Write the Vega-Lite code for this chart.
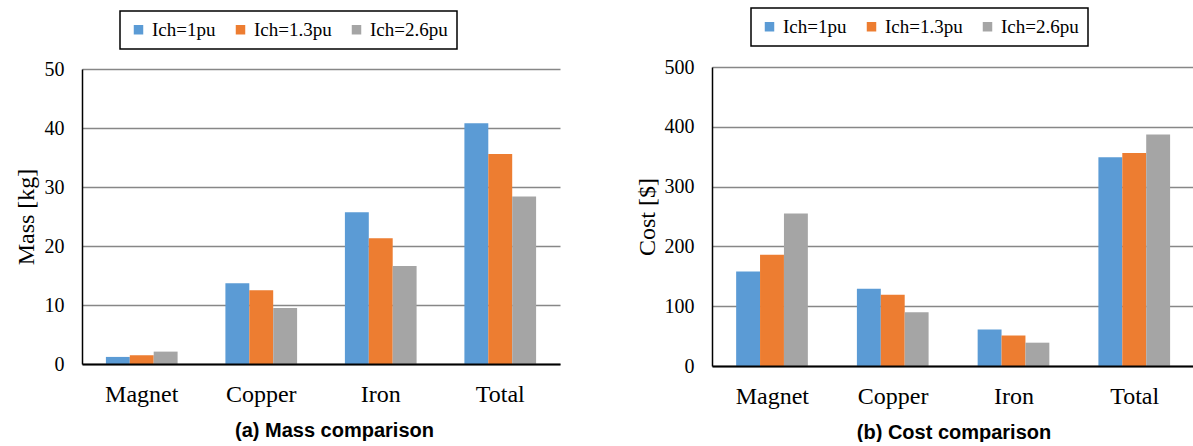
{
  "$schema": "https://vega.github.io/schema/vega-lite/v6.json",
  "padding": {"left": 14, "top": 7, "right": 0, "bottom": 0},
  "background": "white",
  "datasets": {
    "mass": [
      {"component": "Magnet", "series": "Ich=1pu", "value": 1.2},
      {"component": "Magnet", "series": "Ich=1.3pu", "value": 1.5},
      {"component": "Magnet", "series": "Ich=2.6pu", "value": 2.1},
      {"component": "Copper", "series": "Ich=1pu", "value": 13.7},
      {"component": "Copper", "series": "Ich=1.3pu", "value": 12.5},
      {"component": "Copper", "series": "Ich=2.6pu", "value": 9.5},
      {"component": "Iron", "series": "Ich=1pu", "value": 25.7},
      {"component": "Iron", "series": "Ich=1.3pu", "value": 21.3},
      {"component": "Iron", "series": "Ich=2.6pu", "value": 16.6},
      {"component": "Total", "series": "Ich=1pu", "value": 40.8},
      {"component": "Total", "series": "Ich=1.3pu", "value": 35.6},
      {"component": "Total", "series": "Ich=2.6pu", "value": 28.4}
    ],
    "cost": [
      {"component": "Magnet", "series": "Ich=1pu", "value": 158},
      {"component": "Magnet", "series": "Ich=1.3pu", "value": 186},
      {"component": "Magnet", "series": "Ich=2.6pu", "value": 255},
      {"component": "Copper", "series": "Ich=1pu", "value": 129},
      {"component": "Copper", "series": "Ich=1.3pu", "value": 119},
      {"component": "Copper", "series": "Ich=2.6pu", "value": 90},
      {"component": "Iron", "series": "Ich=1pu", "value": 61},
      {"component": "Iron", "series": "Ich=1.3pu", "value": 51},
      {"component": "Iron", "series": "Ich=2.6pu", "value": 39},
      {"component": "Total", "series": "Ich=1pu", "value": 349},
      {"component": "Total", "series": "Ich=1.3pu", "value": 356},
      {"component": "Total", "series": "Ich=2.6pu", "value": 387}
    ]
  },
  "config": {
    "view": {"stroke": null},
    "axis": {
      "labelFont": "Liberation Serif",
      "labelColor": "black",
      "titleColor": "black",
      "ticks": false,
      "gridColor": "#878787",
      "gridWidth": 1.3
    },
    "legend": {
      "orient": "none",
      "direction": "horizontal",
      "title": null,
      "strokeColor": "black",
      "strokeWidth": 1.5,
      "padding": 9,
      "symbolType": "square",
      "symbolSize": 90,
      "symbolStrokeWidth": 0,
      "labelFont": "Liberation Serif",
      "labelFontSize": 19,
      "labelColor": "black",
      "labelOffset": 4,
      "columnPadding": 15,
      "labelLimit": 0
    }
  },
  "bounds": "flush",
  "center": true,
  "spacing": 152,
  "resolve": {"scale": {"color": "independent", "y": "independent"}, "legend": {"color": "independent"}},
  "hconcat": [
    {
      "data": {"name": "mass"},
      "width": 478,
      "height": 295,
      "mark": {"type": "bar"},
      "encoding": {
        "x": {
          "field": "component", "type": "nominal",
          "sort": ["Magnet", "Copper", "Iron", "Total"],
          "scale": {"paddingInner": 0.4, "paddingOuter": 0.2},
          "axis": {
            "title": "(a) Mass comparison",
            "labelAngle": 0, "labelFontSize": 24, "labelPadding": 18,
            "titleFont": "Liberation Sans", "titleFontSize": 20, "titleFontWeight": "bold",
            "titlePadding": 14, "titleX": 252, "titleAlign": "center",
            "domainColor": "black", "domainWidth": 2, "grid": false, "zindex": 1
          }
        },
        "xOffset": {
          "field": "series", "type": "nominal",
          "sort": ["Ich=1pu", "Ich=1.3pu", "Ich=2.6pu"],
          "scale": {"paddingInner": 0, "paddingOuter": 0}
        },
        "y": {
          "field": "value", "type": "quantitative",
          "scale": {"domain": [0, 50]},
          "axis": {
            "title": "Mass [kg]", "values": [0, 10, 20, 30, 40, 50],
            "labelFontSize": 20, "labelPadding": 18,
            "titleFont": "Liberation Serif", "titleFontSize": 24, "titleFontWeight": "normal",
            "titlePadding": 6, "domainColor": "black", "domainWidth": 1.5
          }
        },
        "color": {
          "field": "series", "type": "nominal",
          "scale": {"domain": ["Ich=1pu", "Ich=1.3pu", "Ich=2.6pu"], "range": ["#5B9BD5", "#ED7D31", "#A5A5A5"]},
          "legend": {"legendX": 38, "legendY": -58}
        }
      }
    },
    {
      "data": {"name": "cost"},
      "width": 483,
      "height": 299,
      "mark": {"type": "bar"},
      "encoding": {
        "x": {
          "field": "component", "type": "nominal",
          "sort": ["Magnet", "Copper", "Iron", "Total"],
          "scale": {"paddingInner": 0.4, "paddingOuter": 0.2},
          "axis": {
            "title": "(b) Cost comparison",
            "labelAngle": 0, "labelFontSize": 24, "labelPadding": 18,
            "titleFont": "Liberation Sans", "titleFontSize": 20, "titleFontWeight": "bold",
            "titlePadding": 14,
            "domainColor": "black", "domainWidth": 2, "grid": false, "zindex": 1
          }
        },
        "xOffset": {
          "field": "series", "type": "nominal",
          "sort": ["Ich=1pu", "Ich=1.3pu", "Ich=2.6pu"],
          "scale": {"paddingInner": 0, "paddingOuter": 0}
        },
        "y": {
          "field": "value", "type": "quantitative",
          "scale": {"domain": [0, 500]},
          "axis": {
            "title": "Cost [$]", "values": [0, 100, 200, 300, 400, 500],
            "labelFontSize": 20, "labelPadding": 18,
            "titleFont": "Liberation Serif", "titleFontSize": 24, "titleFontWeight": "normal",
            "titlePadding": 5, "domainColor": "black", "domainWidth": 1.5
          }
        },
        "color": {
          "field": "series", "type": "nominal",
          "scale": {"domain": ["Ich=1pu", "Ich=1.3pu", "Ich=2.6pu"], "range": ["#5B9BD5", "#ED7D31", "#A5A5A5"]},
          "legend": {"legendX": 39, "legendY": -59}
        }
      }
    }
  ]
}
